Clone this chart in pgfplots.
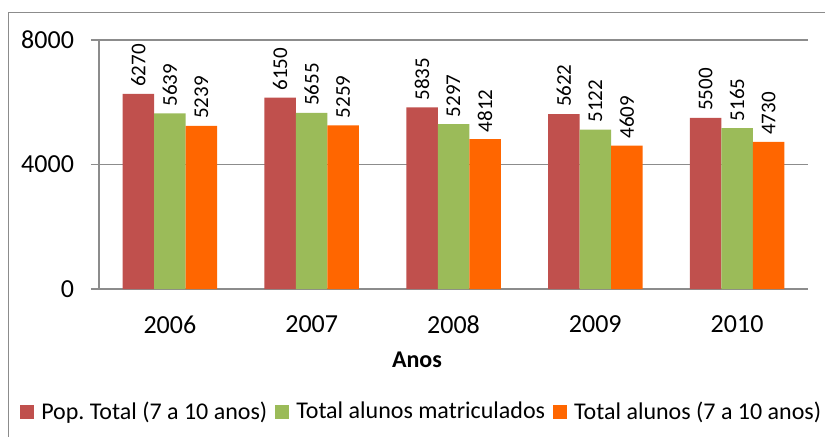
\documentclass[border=0pt]{standalone}
\usepackage{pgfplots}
\pgfplotsset{compat=1.18}
\usepackage{fontspec}
\setmainfont{Carlito}
\definecolor{cred}{HTML}{C0504D}
\definecolor{cgreen}{HTML}{9BBB59}
\definecolor{corange}{HTML}{FF6600}
\definecolor{cgrid}{HTML}{8C8C8C}
\frenchspacing
\begin{document}
\begin{tikzpicture}
\useasboundingbox (0,0) rectangle (412.5pt,218pt);
\draw[cgrid, line width=0.6pt] (4.15pt,-2pt) -- (4.15pt,211.85pt) -- (414pt,211.85pt);
\begin{axis}[
  at={(49.5pt,73.5pt)}, anchor=south west,
  scale only axis, width=354.5pt, height=124.5pt,
  xmin=-0.5, xmax=4.5, ymin=0, ymax=8000,
  ybar=0pt, bar width=15.75pt,
  axis lines*=left,
  axis line style={cgrid, line width=0.6pt},
  ymajorgrids, grid style={cgrid, line width=0.6pt},
  xtick={0,1,2,3,4},
  xticklabels={2006,2007,2008,2009,2010},
  x tick style={draw=none},
  extra x ticks={-0.5,0.5,1.5,2.5,3.5,4.5},
  extra x tick labels={},
  extra x tick style={tick style={draw=cgrid, line width=0.6pt}, major tick length=4pt, tick align=outside, grid=none},
  ytick={0,4000,8000},
  y tick style={draw=cgrid, line width=0.6pt},
  tick align=outside, major tick length=4pt,
  /pgf/number format/1000 sep={},
  /pgf/number format/assume math mode=true,
  ticklabel style={font=\fontsize{13pt}{15pt}\selectfont},
  xticklabel style={yshift=-6pt},
  yticklabel style={xshift=-5pt},
  xlabel={\textbf{Anos}},
  xlabel style={font=\fontsize{12pt}{14pt}\selectfont, at={(axis description cs:0.4485,-0.285)}, anchor=center},
  nodes near coords={\rotatebox{90}{\fontsize{10.5pt}{12pt}\selectfont\pgfmathprintnumber[assume math mode=true,1000 sep={}]{\pgfplotspointmeta}}},
  legend columns=3,
  legend style={draw=none, inner sep=0pt, at={(axis description cs:0.4545,-0.494)}, anchor=center, font=\fontsize{12pt}{14pt}\selectfont, nodes={inner sep=0.5pt}, /tikz/every even column/.append style={column sep=3.5pt}, /tikz/every odd column/.append style={column sep=3pt}},
  legend image code/.code={\fill[#1] (0pt,-3.5pt) rectangle (7pt,3.5pt);},
]
\addplot[fill=cred, draw=none] coordinates {(0,6270) (1,6150) (2,5835) (3,5622) (4,5500)};
\addplot[fill=cgreen, draw=none] coordinates {(0,5639) (1,5655) (2,5297) (3,5122) (4,5165)};
\addplot[fill=corange, draw=none] coordinates {(0,5239) (1,5259) (2,4812) (3,4609) (4,4730)};
\legend{Pop.\ Total (7 a 10 anos), Total alunos matriculados, Total alunos (7 a 10 anos)}
\end{axis}
\end{tikzpicture}
\end{document}
